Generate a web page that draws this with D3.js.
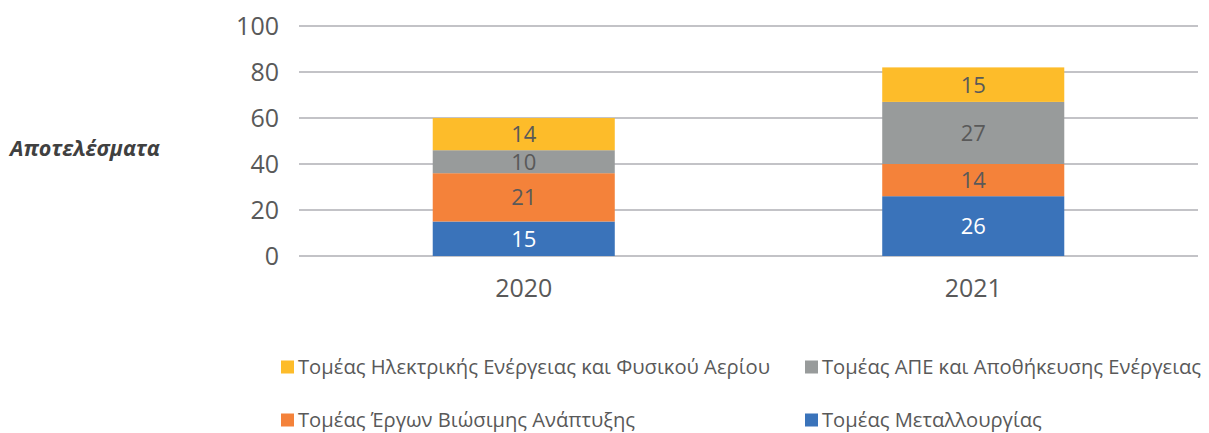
<!DOCTYPE html>
<html>
<head>
<meta charset="utf-8">
<script src="https://cdn.jsdelivr.net/npm/d3@7"></script>
<style>
  html, body { margin: 0; padding: 0; background: #ffffff; }
  svg { display: block; font-family: "Open Sans", sans-serif; }
</style>
</head>
<body>
<svg id="chart" width="1209" height="433"></svg>
<script>
// Results per sector, by year (stack order bottom → top)
const years = ["2020", "2021"];
const metallurgy = [15, 26];        // Τομέας Μεταλλουργίας
const sustainable = [21, 14];       // Τομέας Έργων Βιώσιμης Ανάπτυξης
const renewables = [10, 27];        // Τομέας ΑΠΕ και Αποθήκευσης Ενέργειας
const powerGas = [14, 15];          // Τομέας Ηλεκτρικής Ενέργειας και Φυσικού Αερίου
const yTicks = [0, 20, 40, 60, 80, 100];

const seriesDefs = [
  { key: "met", name: "Τομέας Μεταλλουργίας", values: metallurgy, color: "#3A73BA", text: "#ffffff" },
  { key: "sus", name: "Τομέας Έργων Βιώσιμης Ανάπτυξης", values: sustainable, color: "#F4823A", text: "#595959" },
  { key: "ren", name: "Τομέας ΑΠΕ και Αποθήκευσης Ενέργειας", values: renewables, color: "#989B9B", text: "#595959" },
  { key: "pow", name: "Τομέας Ηλεκτρικής Ενέργειας και Φυσικού Αερίου", values: powerGas, color: "#FDBC2A", text: "#595959" }
];

const rows = years.map((y, i) => {
  const r = { year: y };
  seriesDefs.forEach(s => { r[s.key] = s.values[i]; });
  return r;
});

const svg = d3.select("#chart");
const plot = { left: 299, right: 1198, top: 26, bottom: 256 };

const x = d3.scaleBand()
  .domain(years)
  .range([plot.left, plot.right])
  .paddingInner(0.595)
  .paddingOuter(0.2975);

const y = d3.scaleLinear().domain([0, 100]).range([plot.bottom, plot.top]);

// Gridlines
svg.append("g")
  .selectAll("line")
  .data(yTicks)
  .join("line")
  .attr("x1", plot.left)
  .attr("x2", plot.right)
  .attr("y1", d => y(d))
  .attr("y2", d => y(d))
  .attr("stroke", "#C3C3C7")
  .attr("stroke-width", 2);

// Y tick labels
svg.append("g")
  .selectAll("text")
  .data(yTicks)
  .join("text")
  .attr("x", 279)
  .attr("y", d => y(d))
  .attr("dy", "0.36em")
  .attr("text-anchor", "end")
  .attr("font-size", 25)
  .attr("fill", "#595959")
  .text(d => d);

// X category labels
svg.append("g")
  .selectAll("text")
  .data(years)
  .join("text")
  .attr("x", d => x(d) + x.bandwidth() / 2)
  .attr("y", 288)
  .attr("dy", "0.36em")
  .attr("text-anchor", "middle")
  .attr("font-size", 25)
  .attr("fill", "#595959")
  .text(d => d);

// Stacked bars
const stack = d3.stack().keys(seriesDefs.map(s => s.key));
const layers = stack(rows);

const layerG = svg.append("g")
  .selectAll("g")
  .data(layers)
  .join("g");

layerG.selectAll("rect")
  .data(d => d)
  .join("rect")
  .attr("x", d => x(d.data.year))
  .attr("width", x.bandwidth())
  .attr("y", d => y(d[1]))
  .attr("height", d => y(d[0]) - y(d[1]))
  .attr("fill", function () { return seriesDefs[d3.select(this.parentNode).datum().index].color; });

layerG.selectAll("text")
  .data(d => d)
  .join("text")
  .attr("x", d => x(d.data.year) + x.bandwidth() / 2)
  .attr("y", d => (y(d[0]) + y(d[1])) / 2)
  .attr("dy", "0.36em")
  .attr("text-anchor", "middle")
  .attr("font-size", 22)
  .attr("fill", function () { return seriesDefs[d3.select(this.parentNode).datum().index].text; })
  .text(d => d[1] - d[0]);

// Axis title
svg.append("text")
  .attr("x", 10)
  .attr("y", 148)
  .attr("dy", "0.36em")
  .attr("font-size", 21.5)
  .attr("font-weight", 700)
  .attr("font-style", "italic")
  .attr("fill", "#404040")
  .text("Αποτελέσματα");

// Legend (two rows, two columns)
const legendItems = [
  { s: seriesDefs[3], x: 281, y: 367 },
  { s: seriesDefs[2], x: 805, y: 367 },
  { s: seriesDefs[1], x: 281, y: 420 },
  { s: seriesDefs[0], x: 805, y: 420 }
];
const lg = svg.append("g")
  .selectAll("g")
  .data(legendItems)
  .join("g")
  .attr("transform", d => `translate(${d.x},${d.y})`);
lg.append("rect")
  .attr("x", 0)
  .attr("y", -6.5)
  .attr("width", 13)
  .attr("height", 13)
  .attr("fill", d => d.s.color);
lg.append("text")
  .attr("x", 17)
  .attr("y", 0)
  .attr("dy", "0.36em")
  .attr("font-size", 20.2)
  .attr("fill", "#595959")
  .text(d => d.s.name);
</script>
</body>
</html>
